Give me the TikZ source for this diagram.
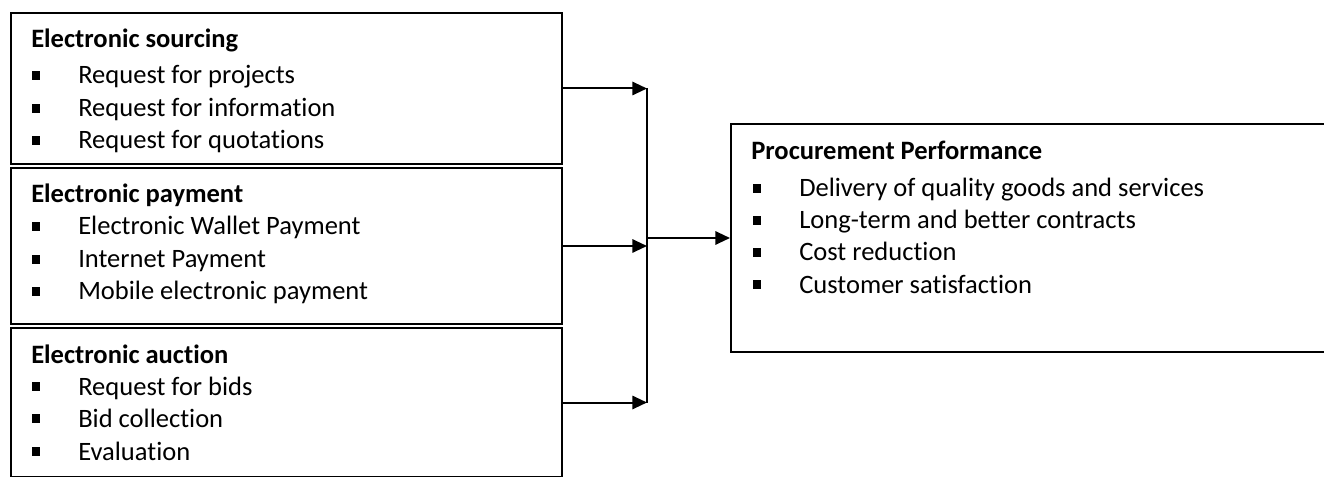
\documentclass[tikz,border=0pt]{standalone}
\usepackage{fontspec}
\setmainfont{Carlito}[Ligatures=NoCommon]
\usetikzlibrary{arrows.meta}
\begin{document}
\begin{tikzpicture}[x=0.75pt,y=-0.75pt,
  box/.style={draw,line width=1.5pt,inner sep=0,anchor=north west},
  head/.style={font=\fontsize{19.9}{24}\selectfont\bfseries,anchor=base west,inner sep=0},
  item/.style={font=\fontsize{19.9}{24}\selectfont,anchor=base west,inner sep=0},
  bul/.style={fill,minimum width=5.8pt,minimum height=6.2pt,inner sep=0},
  arr/.style={line width=1.5pt,-{Triangle[length=11pt,width=10pt]}},
  busline/.style={line width=1.1pt}]
\useasboundingbox (0,0) rectangle (1324,477);
\clip (0,0) rectangle (1324,477);
% boxes
\node[box,minimum width=413.25pt,minimum height=113.25pt] (b1) at (10,12) {};
\node[box,minimum width=413.25pt,minimum height=117pt] (b2) at (10,167) {};
\node[box,minimum width=413.25pt,minimum height=111.75pt] (b3) at (10,327) {};
\node[box,minimum width=457.5pt,minimum height=171pt] (out) at (730,123) {};
% box 1
\node[head] (h1) at (31,48) {Electronic sourcing};
\foreach \t/\y [count=\i] in {Request for projects/84,Request for information/117,Request for quotations/149}{
  \node[bul] (s1b\i) at (36,\y-8.5) {};
  \node[item] (s1t\i) at (78,\y) {\t};
}
% box 2
\node[head] (h2) at (31,203) {Electronic payment};
\foreach \t/\y [count=\i] in {Electronic Wallet Payment/235,Internet Payment/268,Mobile electronic payment/300}{
  \node[bul] (s2b\i) at (36,\y-8.5) {};
  \node[item] (s2t\i) at (78,\y) {\t};
}
% box 3
\node[head] (h3) at (31,363) {Electronic auction};
\foreach \t/\y [count=\i] in {Request for bids/395,Bid collection/427,Evaluation/460}{
  \node[bul] (s3b\i) at (36,\y-8.5) {};
  \node[item] (s3t\i) at (78,\y) {\t};
}
% output box
\node[head] (h4) at (751,160) {Procurement Performance};
\foreach \t/\y [count=\i] in {Delivery of quality goods and services/197,Long-term and better contracts/229,Cost reduction/261,Customer satisfaction/293}{
  \node[bul] (s4b\i) at (757,\y-8.5) {};
  \node[item] (s4t\i) at (799,\y) {\t};
}
% connectors
\coordinate (bus) at (647,0);
\draw[arr] (b1.east) -- (b1.east -| bus);
\draw[arr] (b2.east) -- (b2.east -| bus);
\draw[arr] (b3.east) -- (b3.east -| bus);
\draw[busline] (b1.east -| bus) -- (b3.east -| bus);
\draw[arr] (out.west -| bus) -- (out.west);
\end{tikzpicture}
\end{document}
